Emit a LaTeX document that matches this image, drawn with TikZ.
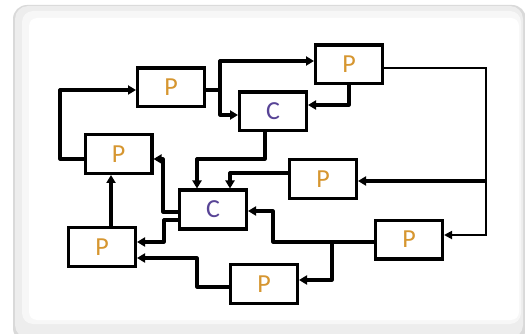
\documentclass[tikz,border=0pt]{standalone}
\usepackage{fontspec}
\setmainfont{Carlito}
\usetikzlibrary{arrows.meta}
\definecolor{pcol}{RGB}{214,150,48}
\definecolor{ccol}{RGB}{88,68,150}
\begin{document}
\begin{tikzpicture}[x=1pt,y=-1pt,
  box/.style={draw=black,line width=3.4pt,fill=white,minimum width=66.6pt,minimum height=38.6pt,inner sep=0pt,font=\fontsize{26}{26}\selectfont},
  pbox/.style={box,text=pcol},
  cbox/.style={box,text=ccol},
  arr/.style={line width=3.2pt,line join=round,-{Triangle[length=8pt,width=9pt]}},
  thinarr/.style={line width=1.8pt,line join=miter,-{Triangle[length=8pt,width=8pt]}}]
\useasboundingbox (0,0) rectangle (525,334);
% frame
\fill[gray!30,rounded corners=14pt] (13,5) rectangle (526,342);
\fill[gray!14,rounded corners=13pt] (15,6) rectangle (523,338);
\fill[gray!6,rounded corners=11pt] (22,11) rectangle (521,324);
\fill[white,rounded corners=8pt] (29,18) rectangle (519,320);
% nodes
\node[pbox] (P1) at (171,87.5) {P};
\node[pbox] (P2) at (349,64.5) {P};
\node[cbox] (C1) at (273,111.5) {C};
\node[pbox] (P3) at (118.5,154) {P};
\node[pbox] (P4) at (323,179) {P};
\node[cbox] (C2) at (213,209.5) {C};
\node[pbox] (P5) at (102,247) {P};
\node[pbox] (P6) at (409,239.5) {P};
\node[pbox] (P7) at (264,284) {P};
% connectors
\draw[arr] (P3.west|-0,159) -| (60,90) -- (P1.west|-0,90);
\draw[arr] (P1.east|-0,90) -- (220,90) |- (P2.west|-0,61);
\draw[arr] (220,90) |- (C1.west|-0,115);
\draw[arr] (P2.south) |- (C1.east|-0,105);
\draw[thinarr] (P2.east|-0,68) -| (486,235) -- (P6.east|-0,235);
\draw[arr] (486,181) -- (P4.east|-0,181);
\draw[arr] (C1.south-|265,0) |- (197,159) -- (C2.north-|197,0);
\draw[arr] (P4.west|-0,173) -| (C2.north-|230,0);
\draw[arr] (C2.west|-0,212) -| (163,159) -- (P3.east|-0,159);
\draw[arr] (C2.west|-0,220) -| (164,242) -- (P5.east|-0,242);
\draw[arr] (P5.north-|111,0) -- (P3.south-|111,0);
\draw[arr] (P6.west|-0,242) -| (273,211) -- (C2.east|-0,211);
\draw[arr] (332,242) |- (P7.east|-0,280);
\draw[arr] (P7.west|-0,287) -| (197,258) -- (P5.east|-0,258);
\end{tikzpicture}
\end{document}
